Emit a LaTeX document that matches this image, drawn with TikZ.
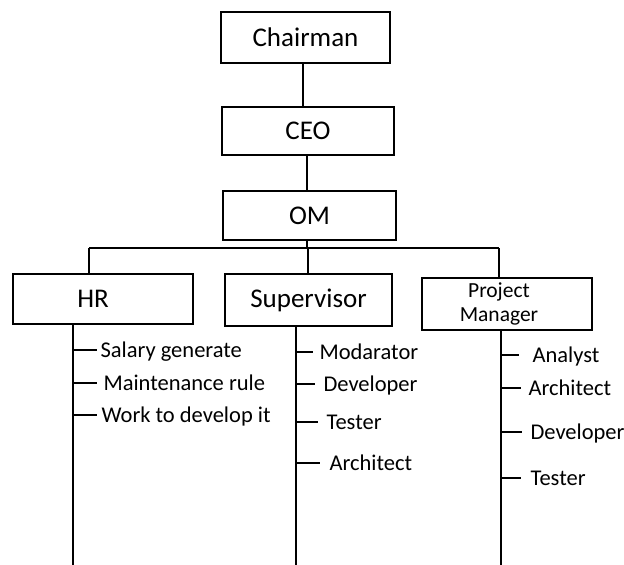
\documentclass[tikz,border=0pt]{standalone}
\usepackage{fontspec}
\setmainfont{Carlito}
\begin{document}
\begin{tikzpicture}[x=1pt,y=1pt,line width=1.1pt,
  box/.style={draw, line width=1.1pt, inner sep=0pt, font=\fontsize{27}{30}\selectfont},
  item/.style={anchor=west, inner ysep=0pt, inner xsep=#1, text height=14pt, text depth=0pt, font=\fontsize{22.5}{26}\selectfont},
  item/.default=6pt]
\useasboundingbox (0,0) rectangle (624,-565);
% boxes
\node[box, minimum width=169pt, minimum height=51pt] (chair) at (305.5,-37.5) {Chairman};
\node[box, minimum width=172pt, minimum height=48pt] (ceo) at (308,-131) {CEO};
\node[box, minimum width=173pt, minimum height=49pt] (om) at (309.5,-215.5) {OM};
\node[box, minimum width=180pt, minimum height=50pt] (hr) at (103,-299) {HR\kern20pt};
\node[box, minimum width=167pt, minimum height=52pt] (sup) at (308.5,-300) {Supervisor};
\node[box, minimum width=170pt, minimum height=52pt, align=center, font=\fontsize{21.5}{24}\selectfont] (pm) at (507,-304) {Project\kern16pt\\Manager\kern16pt};
% top connectors
\coordinate (v1) at (303,0);
\draw (chair.south -| v1) -- (ceo.north -| v1);
\coordinate (v2) at (307,-248);
\draw (ceo.south -| v2) -- (om.north -| v2);
\draw (om.south -| v2) -- (v2);
\coordinate (bl) at (89,-248);
\coordinate (bm) at (308,-248);
\coordinate (br) at (499,-248);
\draw (bl) -- (br);
\draw (bl) -- (bl |- hr.north);
\draw (bm) -- (bm |- sup.north);
\draw (br) -- (br |- pm.north);
% stems
\coordinate (hrs) at (73,-565);
\coordinate (sus) at (296,-565);
\coordinate (pms) at (501,-565);
\draw (hrs |- hr.south) -- (hrs);
\draw (sus |- sup.south) -- (sus);
\draw (pms |- pm.south) -- (pms);
% HR items
\node[item=3pt] (h1) at (97,-350) {Salary generate};
\node[item=6pt] (h2) at (97,-383) {Maintenance rule};
\node[item=4pt] (h3) at (97,-415) {Work to develop it};
% Supervisor items
\node[item=6pt] (s1) at (313,-352) {Modarator};
\node[item=8pt] (s2) at (315,-384) {Developer};
\node[item=8pt] (s3) at (318,-422) {Tester};
\node[item=9pt] (s4) at (320,-463) {Architect};
% PM items
\node[item=13pt] (p1) at (519,-355) {Analyst};
\node[item=7pt] (p2) at (521,-388) {Architect};
\node[item=8pt] (p3) at (522,-432) {Developer};
\node[item=9pt] (p4) at (521,-478) {Tester};
% ticks
\foreach \n in {h1,h2,h3} \draw (hrs |- \n.west) -- (\n.west);
\foreach \n in {s1,s2,s3,s4} \draw (sus |- \n.west) -- (\n.west);
\foreach \n in {p1,p2,p3,p4} \draw (pms |- \n.west) -- (\n.west);
\end{tikzpicture}
\end{document}
